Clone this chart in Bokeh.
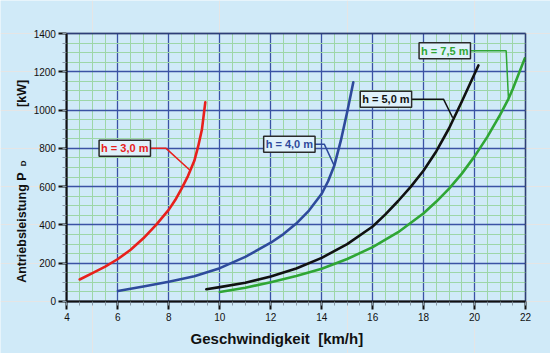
from bokeh.plotting import figure
from bokeh.models import Label, FixedTicker, LinearAxis, Grid, BoxAnnotation
from bokeh.embed import file_html
from bokeh.resources import INLINE

# ---- data ----
v_h30 = [4.5, 5.0, 5.5, 6.0, 6.5, 7.0, 7.5, 8.0, 8.25, 8.5, 8.75, 9.0, 9.15, 9.3, 9.43]
p_h30 = [115, 148, 182, 222, 270, 330, 400, 480, 530, 590, 655, 735, 810, 900, 1040]

v_h40 = [6.0, 7.0, 8.0, 9.0, 10.0, 11.0, 12.0, 12.5, 13.0, 13.5, 14.0, 14.25, 14.5, 14.75, 15.0, 15.24]
p_h40 = [55, 78, 103, 132, 174, 233, 307, 352, 407, 475, 563, 628, 712, 840, 990, 1145]

v_h50 = [9.47, 10.0, 11.0, 12.0, 13.0, 14.0, 15.0, 16.0, 16.5, 17.0, 17.5, 18.0, 18.5, 19.0, 19.5, 20.15]
p_h50 = [64, 75, 98, 130, 172, 228, 300, 392, 455, 525, 600, 684, 785, 905, 1045, 1233]

v_h75 = [10.0, 11.0, 12.0, 13.0, 14.0, 15.0, 16.0, 17.0, 18.0, 18.5, 19.0, 19.5, 20.0, 20.5, 21.0, 21.33, 21.5, 21.97]
p_h75 = [50, 72, 101, 133, 171, 222, 284, 362, 461, 522, 590, 668, 758, 860, 975, 1059, 1110, 1270]

labels = ["h = 3,0 m", "h = 4,0 m", "h = 5,0 m", "h = 7,5 m"]
x_ticks = [4, 6, 8, 10, 12, 14, 16, 18, 20, 22]
y_ticks = [0, 200, 400, 600, 800, 1000, 1200, 1400]
x_title = "Geschwindigkeit\u00a0\u00a0[km/h]"
y_title = ["Antriebsleistung", "P", "D", "[kW]"]

# ---- layout / styles ----
X0, X1, Y0, Y1 = x_ticks[0], x_ticks[-1], y_ticks[0], y_ticks[-1]
BG = "#d0eaf8"
C_RED, C_BLUE, C_BLACK, C_GREEN = "#e8201c", "#2e4a9c", "#111111", "#2fa635"
FONT = "Liberation Sans"

# the frame covers the whole canvas; the plot area is [4,22] x [0,1400]
p = figure(width=550, height=353, x_range=(1.392, 22.98), y_range=(-271.7, 1572.4),
           output_backend="svg", toolbar_location=None,
           x_axis_location=None, y_axis_location=None,
           min_border=0, background_fill_color=BG, border_fill_color=BG)
p.outline_line_color = None

xticker = FixedTicker(ticks=x_ticks, minor_ticks=[X0 + 0.5 * i for i in range(37)])
yticker = FixedTicker(ticks=y_ticks, minor_ticks=[50 * i for i in range(29)])

for dim, tk, cb in ((0, xticker, (Y0, Y1)), (1, yticker, (X0, X1))):
    g = Grid(dimension=dim, ticker=tk, bounds=(tk.ticks[0], tk.ticks[-1]), cross_bounds=cb,
             grid_line_color="#3a52a4", grid_line_width=1.3,
             minor_grid_line_color="#9dd6a8", minor_grid_line_width=1)
    p.add_layout(g)

xaxis = LinearAxis(ticker=xticker, fixed_location=Y0, bounds=(X0, X1))
yaxis = LinearAxis(ticker=yticker, fixed_location=X0, bounds=(Y0, Y1))
for ax in (xaxis, yaxis):
    ax.axis_line_color = "#111111"
    ax.axis_line_width = 2
    ax.major_tick_line_color = "#111111"
    ax.major_tick_line_width = 2
    ax.major_tick_out = 8
    ax.major_tick_in = 0
    ax.minor_tick_line_color = "#8a9aa8"
    ax.minor_tick_line_width = 1
    ax.minor_tick_out = 4
    ax.minor_tick_in = 0
    ax.major_label_text_font = FONT
    ax.major_label_text_font_size = "10px"
    ax.major_label_text_color = "#111111"
xaxis.major_label_standoff = 4
yaxis.major_label_standoff = 3
p.add_layout(xaxis, "below")
p.add_layout(yaxis, "left")

# plot-area border
p.add_layout(BoxAnnotation(left=X0, right=X1, bottom=Y0, top=Y1, fill_color=None,
                           line_color="#111111", line_width=2))

# curves
curves = [(v_h30, p_h30, C_RED), (v_h40, p_h40, C_BLUE),
          (v_h50, p_h50, C_BLACK), (v_h75, p_h75, C_GREEN)]
for xs, ys, c in curves:
    p.line(xs, ys, line_color=c, line_width=2.6, line_join="round", line_cap="round")

# label boxes with leader lines
label_pos = [(6.27, 800), (12.73, 822), (16.52, 1057), (18.83, 1310)]
leaders = [
    ([7.27, 7.89, 8.84], [800, 800, 684]),
    ([13.72, 14.1, 14.49], [822, 822, 710]),
    ([17.5, 18.78, 19.14], [1057, 1057, 960]),
    ([19.82, 21.24, 21.33], [1310, 1310, 1059]),
]
colors = [C_RED, C_BLUE, C_BLACK, C_GREEN]
for (lx, ly), (xs, ys), txt, c in zip(label_pos, leaders, labels, colors):
    p.line(xs, ys, line_color=c, line_width=1.5)
    p.add_layout(Label(x=lx, y=ly, text=txt, text_align="center", text_baseline="middle",
                       text_font=FONT, text_font_style="bold", text_font_size="11px",
                       text_color=c, background_fill_color="#dff1fb",
                       border_line_color="#2a2a2a", border_line_width=1.5, padding=2))

# axis titles
p.add_layout(Label(x=12.24, y=-193, text=x_title,
                   text_align="center", text_baseline="middle", text_font=FONT,
                   text_font_style="bold", text_font_size="15px", text_color="#111111"))
ypos = [(2.255, 355, "12.5px"), (2.255, 653, "12.5px"), (2.3, 721, "8px"), (2.255, 1087, "12.5px")]
for t, (xx, yy, fs) in zip(y_title, ypos):
    p.add_layout(Label(x=xx, y=yy, text=t, angle=90, angle_units="deg",
                       text_align="center", text_baseline="middle", text_font=FONT,
                       text_font_style="bold", text_font_size=fs, text_color="#111111"))

open("out.html", "w").write(file_html(p, INLINE))
